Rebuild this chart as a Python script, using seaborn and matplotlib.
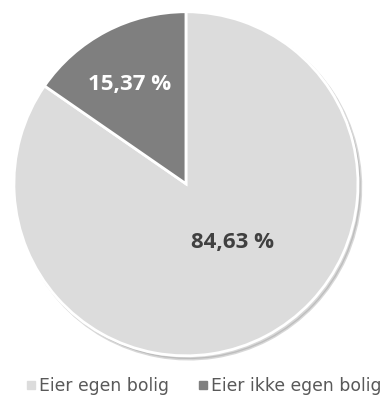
import numpy as np
import matplotlib
matplotlib.use("Agg")
import matplotlib.pyplot as plt
from matplotlib.lines import Line2D
import seaborn as sns

categories = ["Eier egen bolig", "Eier ikke egen bolig"]
shares = [84.63, 15.37]
colors = ["#dcdcdc", "#7f7f7f"]
label_colors = ["#404040", "#ffffff"]

sns.set_theme(style="white")
plt.rcParams["font.family"] = ["Open Sans", "DejaVu Sans"]

fig = plt.figure(figsize=(3.87, 4.03), dpi=100)
fig.patch.set_facecolor("white")
ax = fig.add_axes([0.036, 0.117, 0.889, 0.854])

wedges, _ = ax.pie(
    shares,
    colors=colors,
    startangle=90,
    counterclock=False,
    wedgeprops=dict(edgecolor="white", linewidth=2),
    shadow=dict(ox=0.012, oy=-0.014, shade=0.35, alpha=0.35),
)
ax.set_xlim(-1.0, 1.0)
ax.set_ylim(-1.0, 1.0)
ax.set_aspect("equal")
ax.axis("off")

# value labels, positions in units of the pie radius
label_pos = [(0.27, -0.34), (-0.33, 0.575)]
for (x, y), v, c in zip(label_pos, shares, label_colors):
    ax.text(x, y, f"{v:.2f} %".replace(".", ","),
            ha="center", va="center", fontsize=16, fontweight="bold", color=c)

handles = [Line2D([], [], marker="s", linestyle="", markersize=6,
                  markerfacecolor=col, markeredgecolor=col) for col in colors]
leg = fig.legend(handles, categories, loc="center", bbox_to_anchor=(0.525, 0.043),
                 ncol=2, frameon=False, handletextpad=0.15,
                 columnspacing=1.6, labelcolor="#595959", handlelength=0.7,
                 prop=dict(family="DejaVu Sans", size=12.4))

fig.savefig("out.png", dpi=100, facecolor="white")
